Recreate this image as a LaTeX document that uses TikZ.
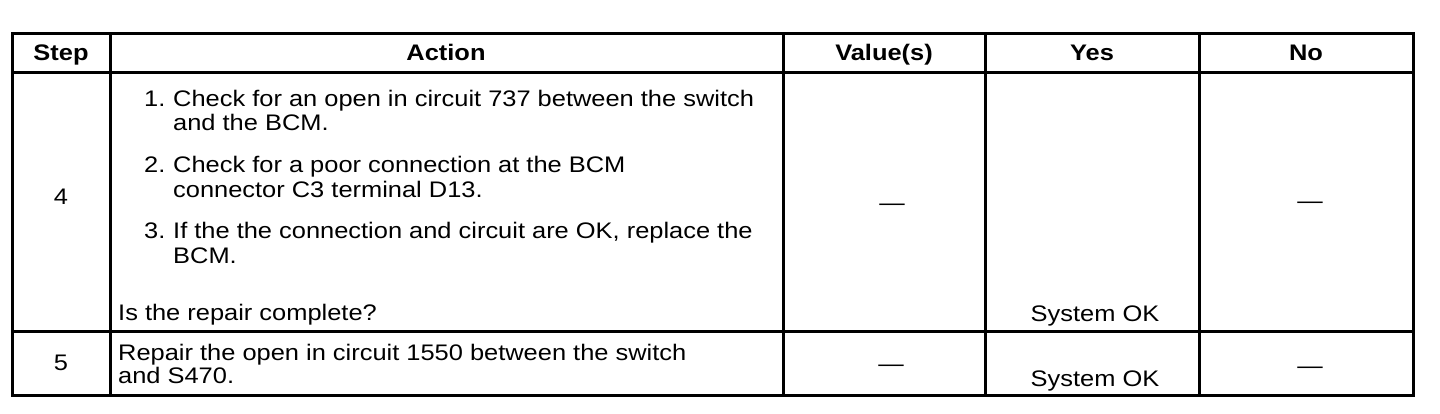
\documentclass[tikz,border=0pt]{standalone}
\usepackage{fontspec}
\setmainfont{Liberation Sans}[FakeStretch=1.13]
\begin{document}
\begin{tikzpicture}[x=1pt,y=-1pt,
		rule/.style={line width=3pt},
		txt/.style={anchor=base west,inner sep=0pt,font=\fontsize{22.5}{24}\selectfont},
		cell/.style={anchor=base,inner sep=0pt,font=\fontsize{22.5}{24}\selectfont},
		hd/.style={cell,font=\fontsize{22.5}{24}\selectfont\bfseries}]
		\useasboundingbox (0,0) rectangle (1440,414);

		% frame and rules
		\draw[rule] (12,34)--(1413,34)--(1413,395)--(12,395)--cycle;
		\draw[rule] (12,73)--(1413,73);
		\draw[rule] (12,331)--(1413,331);
		\draw[rule] (110,34)--(110,395);
		\draw[rule] (783,34)--(783,395);
		\draw[rule] (985,34)--(985,395);
		\draw[rule] (1199,34)--(1199,395);

		% header
		\node[hd] (hstep) at (61,61){Step};
		\node[hd] (hact) at (446,61){Action};
		\node[hd] (hval) at (884,61){Value(s)};
		\node[hd] (hyes) at (1092,61){Yes};
		\node[hd] (hno) at (1306,61){No};

		% step 4
		\node[cell] (s4) at (61,205){4};
		\node[txt] (n1) at (144,107){1.};
		\node[txt] (a1) at (173,107){Check for an open in circuit 737 between the switch};
		\node[txt] (a1b) at (173,131){and the BCM.};
		\node[txt] (n2) at (144,173){2.};
		\node[txt] (a2) at (173,173){Check for a poor connection at the BCM};
		\node[txt] (a2b) at (173,197){connector C3 terminal D13.};
		\node[txt] (n3) at (144,239){3.};
		\node[txt] (a3) at (173,239){If the the connection and circuit are OK, replace the};
		\node[txt] (a3b) at (173,263){BCM.};
		\node[txt] (q4) at (118,320){Is the repair complete?};
		\node[cell] (v4) at (892,211){—};
		\node[cell] (y4) at (1095,321){System OK};
		\node[cell] (no4) at (1310,209){—};

		% step 5
		\node[cell] (s5) at (61,370){5};
		\node[txt] (a5) at (118,360){Repair the open in circuit 1550 between the switch};
		\node[txt] (a5b) at (118,383){and S470.};
		\node[cell] (v5) at (891,371){—};
		\node[cell] (y5) at (1095,386){System OK};
		\node[cell] (no5) at (1310,373){—};
	\end{tikzpicture}
\end{document}
